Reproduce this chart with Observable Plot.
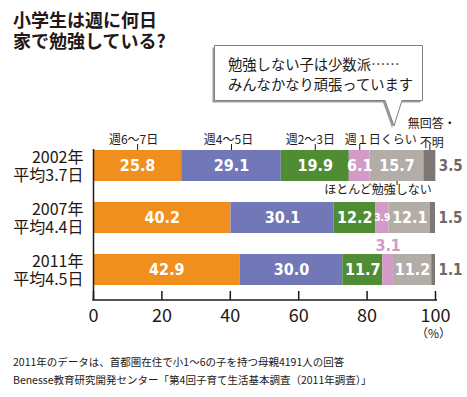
<!DOCTYPE html>
<html><head><meta charset="utf-8">
<script src="https://cdn.jsdelivr.net/npm/d3@7"></script>
<script src="https://cdn.jsdelivr.net/npm/@observablehq/plot@0.6"></script>
<style>
body{margin:0;background:#fff;}
#wrap{position:relative;width:467px;height:397px;overflow:hidden;font-family:"Noto Sans CJK JP",sans-serif;color:#231815;}
#wrap > svg{position:absolute;left:0;top:0;}
.title{position:absolute;left:13px;top:9px;font-size:18px;font-weight:bold;line-height:21px;white-space:nowrap;}
.foot{position:absolute;left:13px;top:353px;font-size:10.5px;line-height:18px;white-space:nowrap;font-family:"Liberation Sans Narrow","Noto Sans CJK JP",sans-serif;}
</style></head><body>
<div id="wrap">
<div class="title">小学生は週に何日<br>家で勉強している?</div>
<div class="foot">2011年のデータは、首都圏在住で小1～6の子を持つ母親4191人の回答<br>Benesse教育研究開発センター「第4回子育て生活基本調査（2011年調査）」</div>
</div>
<script>
const years = ["2002年\n平均3.7日", "2007年\n平均4.4日", "2011年\n平均4.5日"];
const categories = ["週6～7日", "週4～5日", "週2～3日", "週１日くらい", "ほとんど勉強しない", "無回答・不明"];
const v2002 = [25.8, 29.1, 19.9, 6.1, 15.7, 3.5];
const v2007 = [40.2, 30.1, 12.2, 3.9, 12.1, 1.5];
const v2011 = [42.9, 30.0, 11.7, 3.1, 11.2, 1.1];
const xTicks = [0, 20, 40, 60, 80, 100];
const colors = ["#F08F1E", "#7177B7", "#4F8C33", "#D39AC7", "#B3ADA7", "#7D7876"];
const calloutLines = ["勉強しない子は少数派……", "みんなかなり頑張っています"];

const rows = [];
[v2002, v2007, v2011].forEach((vals, i) => {
  let acc = 0;
  vals.forEach((v, j) => {
    rows.push({year: years[i], yi: i, cat: categories[j], ci: j, value: v, x1: acc, x2: acc + v, mid: acc + v / 2});
    acc += v;
  });
});
const inside = rows.filter(d => d.ci < 5 && d.value >= 5);
const small = rows.filter(d => d.ci < 5 && d.value >= 3.5 && d.value < 5);
const above = rows.filter(d => d.ci < 5 && d.value < 3.5);
const right = rows.filter(d => d.ci === 5);
const first = rows.filter(d => d.yi === 0);

const INK = "#231815";
const NARROW = "'Liberation Sans Narrow','Noto Sans CJK JP',sans-serif";
const COND = "'DejaVu Sans Condensed','Liberation Sans Narrow',sans-serif";

function topLabel(ci, dx) {
  return Plot.text(first.filter(d => d.ci === ci), {x: "mid", y: "year", text: "cat", dy: -25.5, dx,
    fontSize: 12, fontFamily: NARROW, fill: INK});
}

const chart = Plot.plot({
  width: 467, height: 397,
  marginLeft: 93, marginRight: 32, marginTop: 149, marginBottom: 97,
  x: {domain: [0, 100], ticks: xTicks, tickSize: 0, tickPadding: 9, label: null, tickFormat: d => d},
  y: {domain: years, range: [127.5, 306.5], padding: 0.41, axis: null},
  color: {domain: categories, range: colors},
  style: {fontFamily: NARROW, fontSize: "18px", color: INK, background: "transparent", overflow: "visible"},
  marks: [
    Plot.barX(rows, {x1: "x1", x2: "x2", y: "year", fill: "cat"}),
    Plot.ruleX([0], {stroke: INK, strokeWidth: 1.5}),
    Plot.tickX(xTicks, {x: d => d, insetTop: 142, stroke: INK, strokeWidth: 1.5}),
    Plot.text(years, {frameAnchor: "left", y: d => d, text: d => d, dx: -10, textAnchor: "end",
      lineHeight: 1.17, fontSize: 16, fontFamily: NARROW, fill: INK}),
    Plot.text(inside, {x: "mid", y: "year", text: d => d.value.toFixed(1), fill: "white",
      fontSize: 16, fontWeight: "bold", fontFamily: COND}),
    Plot.text(small, {x: "mid", y: "year", text: d => d.value.toFixed(1), fill: "white",
      fontSize: 10, fontWeight: "bold", fontFamily: COND}),
    Plot.text(above, {x: "mid", y: "year", text: d => d.value.toFixed(1), dy: -24, fill: colors[3],
      fontSize: 16, fontWeight: "bold", fontFamily: COND}),
    Plot.text(right, {x: "x2", y: "year", text: d => d.value.toFixed(1), dx: 3, textAnchor: "start",
      fill: "#6E6968", fontSize: 15, fontWeight: "bold", fontFamily: COND}),
    // category leader ticks
    Plot.tickX(first.filter(d => d.ci !== 4), {x: "mid", y: "year", insetTop: -6, insetBottom: 31, stroke: INK, strokeWidth: 1}),
    Plot.tickX(first.filter(d => d.ci === 4), {x: "mid", y: "year", insetTop: 31, insetBottom: -4, stroke: INK, strokeWidth: 1}),
    topLabel(0, -4), topLabel(1, -3), topLabel(2, -5),
    Plot.text(first.filter(d => d.ci === 3), {x: "mid", y: "year", text: "cat", dy: -25.5, dx: -15, textAnchor: "start",
      fontSize: 12, fontFamily: NARROW, fill: INK}),
    Plot.text(first.filter(d => d.ci === 5), {x: "mid", y: "year", text: d => "無回答・\n不明", dy: -35, dx: 2,
      lineHeight: 1.6, fontSize: 12, fontFamily: NARROW, fill: INK}),
    Plot.text(first.filter(d => d.ci === 4), {x: "mid", y: "year", text: "cat", dy: 24.5, dx: -19,
      fontSize: 12, fontFamily: NARROW, fill: INK}),
    Plot.text(["（%）"], {x: 100, frameAnchor: "bottom", text: d => d, dy: 37, dx: -2,
      fontSize: 12, fontFamily: NARROW, fill: INK})
  ]
});

// bottom axis baseline, placed with the plot's own x scale
const xs = chart.scale("x");
d3.select(chart).append("line")
  .attr("x1", xs.apply(0) - 0.75).attr("x2", xs.apply(100) + 2)
  .attr("y1", 300).attr("y2", 300)
  .attr("stroke", INK).attr("stroke-width", 1.5);

const wrap = document.getElementById("wrap");
wrap.insertBefore(chart, wrap.firstChild);

// callout balloon
const cs = d3.select(wrap).append("svg").attr("width", 467).attr("height", 397)
  .style("position", "absolute").style("left", "0").style("top", "0");
const pathD = "M214.5,45.5 H422.5 V100.5 H402 L394,126 L385,100.5 H214.5 Z";
cs.append("path").attr("d", pathD).attr("transform", "translate(-2,2)").attr("fill", "#9d9d9d");
cs.append("path").attr("d", pathD).attr("fill", "#fff").attr("stroke", "#7f7f7f").attr("stroke-width", 1);
cs.selectAll("text.c").data(calloutLines).join("text")
  .attr("x", 228).attr("y", (d, i) => 70 + i * 20)
  .attr("font-size", 14.3).attr("font-family", "'Noto Sans CJK JP',sans-serif")
  .attr("fill", INK).text(d => d);
</script>
</body></html>
